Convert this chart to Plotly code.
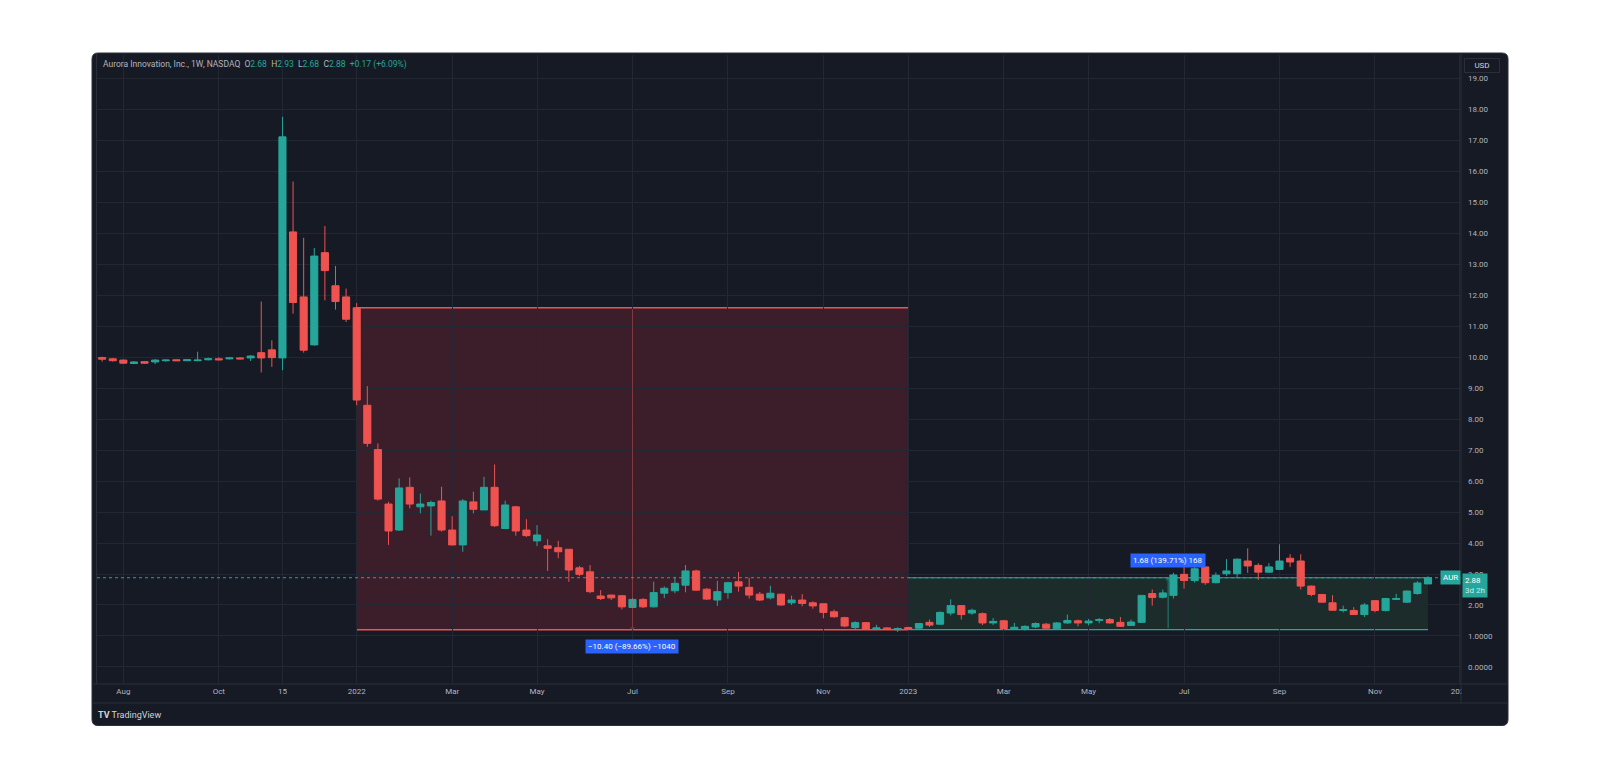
import pandas as pd
import plotly.graph_objects as go

# ---- weekly OHLC, Aurora Innovation (AUR), NASDAQ, bars start on Mondays ----
first_week = "2021-07-19"

opens_2021 = [9.99, 9.95, 9.91, 9.80, 9.86, 9.85, 9.89, 9.92, 9.89, 9.89, 9.92, 9.95,
              9.95, 9.98, 9.98, 10.15, 10.24, 9.98, 14.05, 11.95, 10.40, 13.38, 12.31, 11.95]
highs_2021 = [10.02, 9.98, 9.93, 9.88, 9.88, 9.94, 9.93, 9.93, 9.93, 10.18, 9.99, 10.00,
              10.00, 10.01, 10.07, 11.80, 10.55, 17.77, 15.68, 13.86, 13.53, 14.24, 12.95, 12.22]
lows_2021 = [9.86, 9.86, 9.80, 9.78, 9.79, 9.78, 9.86, 9.88, 9.88, 9.88, 9.90, 9.90,
             9.93, 9.93, 9.88, 9.51, 9.69, 9.58, 11.41, 10.15, 10.38, 11.84, 11.54, 11.14]
closes_2021 = [9.94, 9.89, 9.81, 9.85, 9.81, 9.91, 9.91, 9.89, 9.92, 9.91, 9.95, 9.92,
               9.98, 9.95, 10.04, 9.98, 9.99, 17.12, 11.77, 10.23, 13.27, 12.80, 11.80, 11.23]

opens_2022 = [11.60, 8.45, 7.02, 5.26, 4.42, 5.80, 5.17, 5.20, 5.36, 4.42, 3.94, 5.33, 5.07,
              5.80, 4.47, 5.17, 4.42, 4.07, 3.91, 3.85, 3.80, 3.20, 3.07, 2.29, 2.32, 2.30,
              1.92, 2.18, 1.94, 2.38, 2.46, 2.64, 3.10, 2.51, 2.16, 2.40, 2.75, 2.57, 2.35,
              2.23, 2.35, 2.07, 2.16, 2.07, 2.04, 1.78, 1.59, 1.27, 1.43, 1.22, 1.26, 1.20]
highs_2022 = [11.75, 9.07, 7.22, 5.33, 6.09, 6.12, 5.60, 5.37, 5.82, 4.87, 5.42, 5.66, 6.14,
              6.54, 5.37, 5.20, 4.77, 4.58, 4.12, 4.07, 3.80, 3.26, 3.29, 2.48, 2.33, 2.31,
              2.22, 2.22, 2.75, 2.60, 2.91, 3.29, 3.14, 2.55, 2.78, 2.75, 3.07, 2.88, 2.42,
              2.62, 2.36, 2.30, 2.35, 2.12, 2.05, 1.85, 1.62, 1.47, 1.44, 1.36, 1.28, 1.28]
lows_2022 = [8.45, 7.11, 5.37, 3.94, 4.39, 5.12, 4.96, 4.24, 4.37, 3.92, 3.72, 4.96, 5.07,
             4.52, 4.45, 4.24, 4.20, 3.90, 3.10, 3.51, 2.75, 2.93, 2.38, 2.16, 2.16, 1.86,
             1.90, 1.90, 1.92, 2.22, 2.38, 2.41, 2.45, 2.16, 1.97, 2.20, 2.43, 2.21, 2.13,
             2.18, 1.98, 2.00, 1.96, 1.88, 1.57, 1.59, 1.28, 1.22, 1.20, 1.20, 1.20, 1.13]
closes_2022 = [8.62, 7.22, 5.42, 4.39, 5.78, 5.26, 5.26, 5.31, 4.42, 3.94, 5.36, 5.09, 5.80,
               4.56, 5.23, 4.39, 4.24, 4.26, 3.83, 3.72, 3.13, 2.99, 2.43, 2.21, 2.23, 1.94,
               2.18, 1.94, 2.40, 2.54, 2.70, 3.10, 2.48, 2.19, 2.43, 2.72, 2.61, 2.32, 2.16,
               2.38, 2.00, 2.16, 2.05, 1.97, 1.76, 1.62, 1.32, 1.43, 1.22, 1.26, 1.22, 1.24]

opens_2023 = [1.27, 1.25, 1.44, 1.38, 1.74, 1.98, 1.74, 1.72, 1.42, 1.49, 1.23, 1.23, 1.29,
              1.38, 1.23, 1.42, 1.49, 1.42, 1.50, 1.53, 1.44, 1.34, 1.44, 2.37, 2.25, 2.31,
              2.99, 2.79, 3.23, 2.72, 3.01, 3.01, 3.42, 3.28, 3.06, 3.15, 3.51, 3.42, 2.61,
              2.34, 2.07, 1.82, 1.82, 1.69, 2.14, 1.82, 2.18, 2.09, 2.37, 2.68]
highs_2023 = [1.30, 1.42, 1.53, 1.79, 2.18, 1.98, 1.88, 1.76, 1.58, 1.52, 1.42, 1.34, 1.44,
              1.42, 1.45, 1.69, 1.53, 1.55, 1.58, 1.58, 1.61, 1.53, 2.31, 2.50, 2.50, 3.04,
              3.26, 3.23, 3.23, 3.05, 3.48, 3.50, 3.83, 3.35, 3.35, 3.96, 3.64, 3.64, 2.63,
              2.34, 2.32, 1.98, 1.93, 2.06, 2.14, 2.23, 2.36, 2.47, 2.77, 2.93]
lows_2023 = [1.20, 1.23, 1.29, 1.36, 1.66, 1.53, 1.68, 1.35, 1.35, 1.22, 1.20, 1.18, 1.25,
             1.23, 1.21, 1.39, 1.31, 1.34, 1.41, 1.40, 1.29, 1.32, 1.42, 1.98, 2.21, 2.21,
             2.53, 2.72, 2.65, 2.70, 2.94, 2.88, 3.04, 2.81, 3.04, 3.13, 3.23, 2.50, 2.28,
             2.09, 1.83, 1.76, 1.69, 1.61, 1.76, 1.79, 2.16, 2.07, 2.33, 2.68]
closes_2023 = [1.21, 1.40, 1.35, 1.76, 1.98, 1.69, 1.83, 1.42, 1.47, 1.24, 1.28, 1.31, 1.40,
               1.25, 1.42, 1.50, 1.42, 1.48, 1.53, 1.42, 1.31, 1.45, 2.31, 2.24, 2.39, 2.97,
               2.79, 3.17, 2.72, 2.96, 3.10, 3.48, 3.26, 3.06, 3.23, 3.42, 3.39, 2.61, 2.34,
               2.09, 1.83, 1.85, 1.69, 2.00, 1.82, 2.21, 2.21, 2.45, 2.71, 2.88]

opens = opens_2021 + opens_2022 + opens_2023
highs = highs_2021 + highs_2022 + highs_2023
lows = lows_2021 + lows_2022 + lows_2023
closes = closes_2021 + closes_2022 + closes_2023
weeks = pd.date_range(first_week, periods=len(opens), freq="7D")

# time-axis labels (first weekly bar of the month)
time_tick_dates = ["2021-08-02", "2021-10-04", "2021-11-15", "2022-01-03", "2022-03-07",
                   "2022-05-02", "2022-07-04", "2022-09-05", "2022-11-07", "2023-01-02",
                   "2023-03-06", "2023-05-01", "2023-07-03", "2023-09-04", "2023-11-06",
                   "2024-01-01"]
time_tick_text = ["Aug", "Oct", "15", "2022", "Mar", "May", "Jul", "Sep", "Nov", "2023",
                  "Mar", "May", "Jul", "Sep", "Nov", "2024"]

price_tick_vals = list(range(0, 20))
price_tick_text = ["0.0000", "1.0000"] + [f"{v:.2f}" for v in range(2, 20)]

# measured ranges
drop_start, drop_end = "2022-01-03", "2023-01-02"
drop_high, drop_low = 11.60, 1.20
drop_label = "\u221210.40 (\u221289.66%) \u22121040"
rise_start, rise_end = "2023-01-02", "2023-12-11"
rise_low, rise_high = 1.2025, 2.88
rise_label = "1.68 (139.71%) 168"

last_price = 2.88
header_name = "Aurora Innovation, Inc., 1W, NASDAQ"
ohlc_last = {"O": "2.68", "H": "2.93", "L": "2.68", "C": "2.88"}
change_text = "+0.17 (+6.09%)"

# ---- styling ----
W, H = 1600, 780
PL, PR, PT, PB = 97, 1461, 55, 684          # plot area in pixels
BG = "#161a25"
GRID = "#232733"
BORDER = "#2a2e39"
TXT = "#b2b5be"
UP = "#26a69a"
DOWN = "#ef5350"
FONT = "Roboto"


def px_x(x):
    return (x - PL) / (PR - PL)


def px_y(y):
    return (PB - y) / (PB - PT)


def mid_date(a, b):
    a, b = pd.Timestamp(a), pd.Timestamp(b)
    return (a + (b - a) / 2).strftime("%Y-%m-%d %H:%M")


fig = go.Figure()

fig.add_trace(go.Candlestick(
    x=weeks, open=opens, high=highs, low=lows, close=closes,
    increasing=dict(line=dict(color=UP, width=1), fillcolor=UP),
    decreasing=dict(line=dict(color=DOWN, width=1), fillcolor=DOWN),
    whiskerwidth=0, showlegend=False, hoverinfo="skip",
))

shapes = []

# rounded dark panel
x0, x1, y0, y1 = px_x(92), px_x(1508), px_y(725.5), px_y(53)
rx, ry = 6 / (PR - PL), 6 / (PB - PT)
panel_path = (f"M{x0 + rx},{y1} L{x1 - rx},{y1} Q{x1},{y1} {x1},{y1 - ry} "
              f"L{x1},{y0 + ry} Q{x1},{y0} {x1 - rx},{y0} L{x0 + rx},{y0} "
              f"Q{x0},{y0} {x0},{y0 + ry} L{x0},{y1 - ry} Q{x0},{y1} {x0 + rx},{y1} Z")
shapes.append(dict(type="path", xref="paper", yref="paper", path=panel_path,
                   fillcolor=BG, line=dict(color="#2c303b", width=1), layer="below"))

# measured drop box
shapes.append(dict(type="rect", xref="x", yref="y", x0=drop_start, x1=drop_end,
                   y0=drop_low, y1=drop_high, fillcolor="rgba(242,54,69,0.17)",
                   line=dict(width=0), layer="below"))
for yv in (drop_high, drop_low):
    shapes.append(dict(type="line", xref="x", yref="y", x0=drop_start, x1=drop_end,
                       y0=yv, y1=yv, line=dict(color=DOWN, width=1.5), layer="below"))

# measured rise box
shapes.append(dict(type="rect", xref="x", yref="y", x0=rise_start, x1=rise_end,
                   y0=rise_low, y1=rise_high, fillcolor="rgba(60,170,80,0.13)",
                   line=dict(width=0), layer="below"))
for yv in (rise_low, rise_high):
    shapes.append(dict(type="line", xref="x", yref="y", x0=rise_start, x1=rise_end,
                       y0=yv, y1=yv, line=dict(color=UP, width=1.2), layer="below"))

# last price line
shapes.append(dict(type="line", xref="paper", yref="y", x0=0, x1=1, y0=last_price,
                   y1=last_price, line=dict(color=UP, width=1, dash="dot"), layer="above"))

# frame lines of plot / scales
shapes.append(dict(type="line", xref="paper", yref="paper", x0=px_x(96.5), x1=px_x(96.5),
                   y0=px_y(684), y1=px_y(53.5), line=dict(color=BORDER, width=1), layer="below"))
# mask for the time-axis label overflowing into the price scale
shapes.append(dict(type="rect", xref="paper", yref="paper", x0=px_x(1461.5), x1=px_x(1507.5),
                   y0=px_y(702.5), y1=px_y(684.5), fillcolor=BG, line=dict(width=0),
                   layer="above"))
shapes.append(dict(type="line", xref="paper", yref="paper", x0=px_x(1461), x1=px_x(1461),
                   y0=px_y(703), y1=px_y(53.5), line=dict(color=BORDER, width=1), layer="above"))
for yy in (684, 703):
    shapes.append(dict(type="line", xref="paper", yref="paper", x0=px_x(92.5), x1=px_x(1507.5),
                       y0=px_y(yy), y1=px_y(yy), line=dict(color=BORDER, width=1),
                       layer="above"))

annotations = []

# measuring arrows
drop_mid = mid_date(drop_start, drop_end)
rise_mid = mid_date(rise_start, rise_end)
annotations.append(dict(x=drop_mid, y=drop_low, ax=drop_mid, ay=drop_high, xref="x", yref="y",
                        axref="x", ayref="y", text="", showarrow=True, arrowhead=4,
                        arrowsize=0.8, arrowwidth=1, arrowcolor="rgba(239,83,80,0.45)"))
annotations.append(dict(x=rise_mid, y=rise_high, ax=rise_mid, ay=rise_low, xref="x", yref="y",
                        axref="x", ayref="y", text="", showarrow=True, arrowhead=4,
                        arrowsize=0.8, arrowwidth=1, arrowcolor="rgba(38,166,154,0.7)"))

# range labels
annotations.append(dict(x=drop_mid, y=drop_low, xref="x", yref="y", text=drop_label,
                        showarrow=False, yanchor="top", yshift=-9, bgcolor="#2962ff",
                        borderpad=2, font=dict(family=FONT, size=8, color="#ffffff")))
annotations.append(dict(x=rise_mid, y=rise_high, xref="x", yref="y", text=rise_label,
                        showarrow=False, yanchor="bottom", yshift=10, bgcolor="#2962ff",
                        borderpad=2, font=dict(family=FONT, size=8, color="#ffffff")))

# header legend
green_vals = "".join(
    f"<span style='color:{TXT}'>{k}</span><span style='color:{UP}'>{v}</span>&nbsp;&nbsp;"
    for k, v in ohlc_last.items())
header = (f"<span style='color:{TXT}'>{header_name}</span>&nbsp;&nbsp;{green_vals}"
          f"<span style='color:{UP}'>{change_text}</span>")
annotations.append(dict(x=0, y=1, xref="paper", yref="paper", xanchor="left", yanchor="middle",
                        xshift=4, yshift=-9, text=header, showarrow=False,
                        font=dict(family=FONT, size=8.5, color=TXT)))

# symbol + last price tags on the price scale
annotations.append(dict(x=1, y=last_price, xref="paper", yref="y", xanchor="right",
                        yanchor="middle", text="AUR", showarrow=False, bgcolor=UP,
                        borderpad=2, font=dict(family=FONT, size=8, color="#ffffff")))
annotations.append(dict(x=1, y=last_price, xref="paper", yref="y", xanchor="left",
                        yanchor="top", yshift=5, xshift=1, align="left",
                        text=f"{last_price:.2f}<br><span style='color:#c8eee9'>3d 2h</span>",
                        showarrow=False, bgcolor=UP, borderpad=2,
                        font=dict(family=FONT, size=8, color="#ffffff")))

# currency box
annotations.append(dict(x=px_x(1482), y=px_y(65), xref="paper", yref="paper", text="USD",
                        xanchor="center", yanchor="middle", showarrow=False, bgcolor=BG,
                        bordercolor=BORDER, borderwidth=1, borderpad=2, width=30,
                        font=dict(family=FONT, size=8, color="#d1d4dc")))

# branding
annotations.append(dict(x=0, y=0, xref="paper", yref="paper", xanchor="left", yanchor="middle",
                        xshift=-1, yshift=-31, text="<b>TV</b> TradingView", showarrow=False,
                        font=dict(family=FONT, size=9, color="#d1d4dc")))

fig.update_layout(
    width=W, height=H,
    margin=dict(l=PL, r=W - PR, t=PT, b=H - PB, pad=0),
    paper_bgcolor="#ffffff", plot_bgcolor="rgba(0,0,0,0)",
    shapes=shapes, annotations=annotations,
    boxgap=0.33, boxgroupgap=0,
    showlegend=False,
    xaxis=dict(
        type="date", range=["2021-07-15 14:38", "2024-01-01 18:30"],
        tickvals=time_tick_dates, ticktext=time_tick_text, ticks="",
        showgrid=True, gridcolor=GRID, gridwidth=1, zeroline=False, showline=False,
        rangeslider=dict(visible=False), fixedrange=True,
        tickfont=dict(family=FONT, size=8, color=TXT), ticklabelstandoff=1,
    ),
    yaxis=dict(
        range=[-0.552, 19.764], side="right", tickvals=price_tick_vals,
        ticktext=price_tick_text, ticks="", showgrid=True, gridcolor=GRID, gridwidth=1,
        zeroline=False, showline=False, fixedrange=True,
        tickfont=dict(family=FONT, size=8, color=TXT), ticklabelstandoff=6,
    ),
)

fig.write_html("out.html")
